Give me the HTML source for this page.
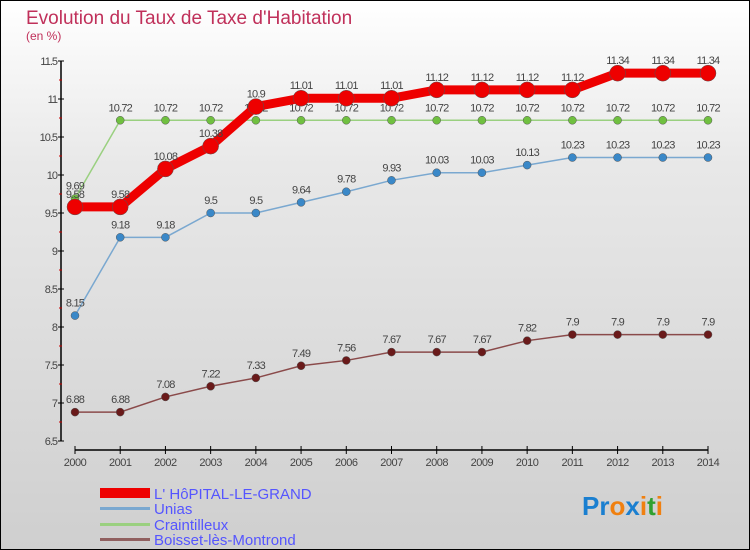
<!DOCTYPE html>
<html><head><meta charset="utf-8"><style>
body{margin:0;width:750px;height:550px;overflow:hidden;font-family:"Liberation Sans",sans-serif}
#c{position:absolute;left:0;top:0;width:748px;height:548px;border:1px solid #000;background:linear-gradient(#fff,#e8e8e8 30%,#cfcfcf)}
</style></head><body>
<div id="c">
<svg id="s" width="750" height="550" style="position:absolute;left:-1px;top:-1px">
<text x="26" y="24" font-size="19" fill="#c0305a">Evolution du Taux de Taxe d'Habitation</text>
<text x="26" y="40" font-size="12" fill="#c0305a">(en %)</text>
<g id="axes"></g><g id="series"></g>
<g>
<rect x="100" y="488" width="50" height="10" fill="#e00"/>
<text x="154" y="499" font-size="15" fill="#55f">L' HôPITAL-LE-GRAND</text>
<rect x="100" y="507" width="50" height="3" fill="#7aa8d0"/>
<text x="154" y="514" font-size="15" fill="#55f">Unias</text>
<rect x="100" y="523" width="50" height="3" fill="#9ad080"/>
<text x="154" y="530" font-size="15" fill="#55f">Craintilleux</text>
<rect x="100" y="538" width="50" height="3" fill="#906060"/>
<text x="154" y="545" font-size="15" fill="#55f">Boisset-lès-Montrond</text>
</g>
<text x="582" y="515" font-size="26" font-weight="bold"><tspan fill="#1a7fd0">Pr</tspan><tspan fill="#f08010">o</tspan><tspan fill="#1a7fd0">x</tspan><tspan fill="#f08010">i</tspan><tspan fill="#30a030">t</tspan><tspan fill="#f08010">i</tspan></text>
</svg></div>
<script>
const years=[2000,2001,2002,2003,2004,2005,2006,2007,2008,2009,2010,2011,2012,2013,2014];
const yTicks=[6.5,7,7.5,8,8.5,9,9.5,10,10.5,11,11.5];
const hopital=[9.58,9.58,10.08,10.38,10.9,11.01,11.01,11.01,11.12,11.12,11.12,11.12,11.34,11.34,11.34];
const unias=[8.15,9.18,9.18,9.5,9.5,9.64,9.78,9.93,10.03,10.03,10.13,10.23,10.23,10.23,10.23];
const craint=[9.69,10.72,10.72,10.72,10.72,10.72,10.72,10.72,10.72,10.72,10.72,10.72,10.72,10.72,10.72];
const boisset=[6.88,6.88,7.08,7.22,7.33,7.49,7.56,7.67,7.67,7.67,7.82,7.9,7.9,7.9,7.9];
const NS="http://www.w3.org/2000/svg";
const X=i=>75+i*(708-75)/(years.length-1);
const Y=v=>441-(v-6.5)*(441-61)/5;
function mk(t,a,p){const e=document.createElementNS(NS,t);for(const k in a)e.setAttribute(k,a[k]);p.appendChild(e);return e;}
const ax=document.getElementById('axes');
const yl=mk('line',{x1:61,y1:61,x2:61,y2:441,stroke:'#000','stroke-width':1.5},ax);


yTicks.forEach((v,i)=>{
 mk('line',{x1:58,y1:Y(v),x2:64,y2:Y(v),stroke:'#000'},ax);
 if(i<yTicks.length-1)mk('line',{x1:59,y1:Y(v+0.25),x2:62,y2:Y(v+0.25),stroke:'#c00'},ax);
 const t=mk('text',{x:57,y:Y(v)+4,'text-anchor':'end','font-size':11,fill:'#444','letter-spacing':'-1'},ax);
 t.textContent=String(v);
 
 
});
const xl=mk('line',{x1:75,y1:450,x2:708,y2:450,stroke:'#000','stroke-width':1.5},ax);


years.forEach((y,i)=>{
 mk('line',{x1:X(i),y1:446,x2:X(i),y2:454,stroke:'#000'},ax);
 const t=mk('text',{x:X(i),y:466,'text-anchor':'middle','font-size':11,fill:'#444','letter-spacing':'-0.5'},ax);
 t.textContent=String(y);
 
 
});
const sg=document.getElementById('series');
function draw(data,name,color,lw,r,dot){
 const g=mk('g',{},sg);
 
 
 const pl=mk('polyline',{points:data.map((v,i)=>X(i)+','+Y(v)).join(' '),fill:'none',stroke:color,'stroke-width':lw},g);
 
 
 data.forEach((v,i)=>{
  const c=mk('circle',{cx:X(i),cy:Y(v),r:r,fill:dot,stroke:'#555','stroke-width':0.5},g);
  
  
  const t=mk('text',{x:X(i),y:Y(v)-9,'text-anchor':'middle','font-size':11,fill:'#444','letter-spacing':'-0.8'},g);
  t.textContent=String(v);
  
  
 });
}
draw(boisset,'boisset','#8a4a4a',1.5,4,'#6a1a1a');
draw(unias,'unias','#7aa8d0',1.5,4,'#3a88c8');
draw(craint,'craintilleux','#9ad080',1.5,4,'#70c040');
draw(hopital,'hopital','#e00',9,8,'#e00');
</script>
</body></html>
